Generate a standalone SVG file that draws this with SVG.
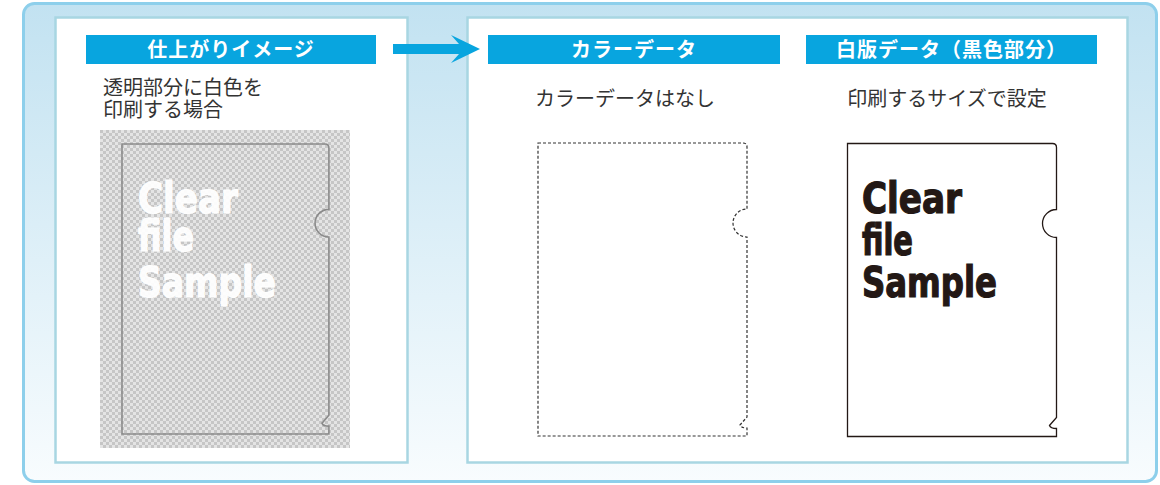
<svg xmlns="http://www.w3.org/2000/svg" width="1160" height="485" viewBox="0 0 1160 485">
<defs>
<linearGradient id="bg" x1="0" y1="0" x2="0" y2="1">
<stop offset="0" stop-color="#c2e2f1"/>
<stop offset="1" stop-color="#f8fcfe"/>
</linearGradient>
<pattern id="checker" width="6" height="6" patternUnits="userSpaceOnUse" x="100" y="130">
<rect width="6" height="6" fill="#e4e4e4"/>
<rect width="3" height="3" fill="#c6c6c6"/>
<rect x="3" y="3" width="3" height="3" fill="#c6c6c6"/>
</pattern>
<path id="file" d="M0,0 H205 Q209,0 209,4 V66 A14,14 0 0 0 209,94 V274 L202,282 Q203,285 209,285 V293 H0 Z"/>
<style>
.panel{fill:#ffffff;stroke:#a8d6e2;stroke-width:2.5}
.hdr{fill:#08a5df}
.hdrt{font-family:"Noto Sans CJK JP","Noto Sans",sans-serif;font-weight:700;font-size:20px;fill:#ffffff;text-anchor:middle;letter-spacing:1px}
.body{font-family:"Noto Sans CJK JP","Noto Sans",sans-serif;font-size:20px;fill:#333333}
.big{font-family:"Liberation Sans Narrow","DejaVu Sans Condensed","Liberation Sans",sans-serif;font-weight:700;font-size:42px}
</style>
</defs>

<g id="frame">
<rect x="23.5" y="3.5" width="1133" height="478" rx="11" fill="url(#bg)" stroke="#8dcfeb" stroke-width="3"/>
</g>

<g id="panel-left">
<rect class="panel" x="55.5" y="17.5" width="352" height="445"/>
<rect class="hdr" x="86" y="35" width="290" height="29"/>
<text class="hdrt" x="231" y="57">仕上がりイメージ</text>
<text class="body" x="103" y="95">透明部分に白色を</text>
<text class="body" x="103" y="117">印刷する場合</text>
<rect x="100" y="130" width="250" height="318" fill="url(#checker)"/>
<use href="#file" transform="translate(122,144) scale(0.99,0.99)" fill="none" stroke="#8a8a8a" stroke-width="1.6"/>
<g class="big" fill="#ffffff" fill-opacity="0.95" stroke="#ffffff" stroke-width="1.2" stroke-opacity="0.95">
<text x="138" y="213" textLength="100" lengthAdjust="spacingAndGlyphs">Clear</text>
<text x="138" y="251" textLength="56" lengthAdjust="spacingAndGlyphs">file</text>
<text x="138" y="297" textLength="138" lengthAdjust="spacingAndGlyphs">Sample</text>
</g>
</g>

<g id="panel-right">
<rect class="panel" x="467.5" y="17.5" width="660" height="445"/>
</g>

<g id="color-data">
<rect class="hdr" x="488" y="35" width="292" height="29"/>
<text class="hdrt" x="634" y="57">カラーデータ</text>
<text class="body" x="625" y="106" text-anchor="middle">カラーデータはなし</text>
<use href="#file" transform="translate(538,143)" fill="none" stroke="#333333" stroke-width="1.2" stroke-dasharray="3 2"/>
</g>

<g id="white-data">
<rect class="hdr" x="806" y="35" width="291" height="29"/>
<text class="hdrt" x="951.5" y="57">白版データ（黒色部分）</text>
<text class="body" x="947" y="106" text-anchor="middle">印刷するサイズで設定</text>
<use href="#file" transform="translate(847.5,143.5)" fill="#ffffff" stroke="#231815" stroke-width="1.3"/>
<g class="big" fill="#231815" stroke="#231815" stroke-width="1.2">
<text x="862" y="213" textLength="100" lengthAdjust="spacingAndGlyphs">Clear</text>
<text x="862" y="255" textLength="51" lengthAdjust="spacingAndGlyphs">file</text>
<text x="862" y="297" textLength="135" lengthAdjust="spacingAndGlyphs">Sample</text>
</g>
</g>

<g id="connectors">
<polygon points="393,44 459,44 451,35 480,49 451,63 459,54 393,54" fill="#08a5df"/>
</g>
</svg>
